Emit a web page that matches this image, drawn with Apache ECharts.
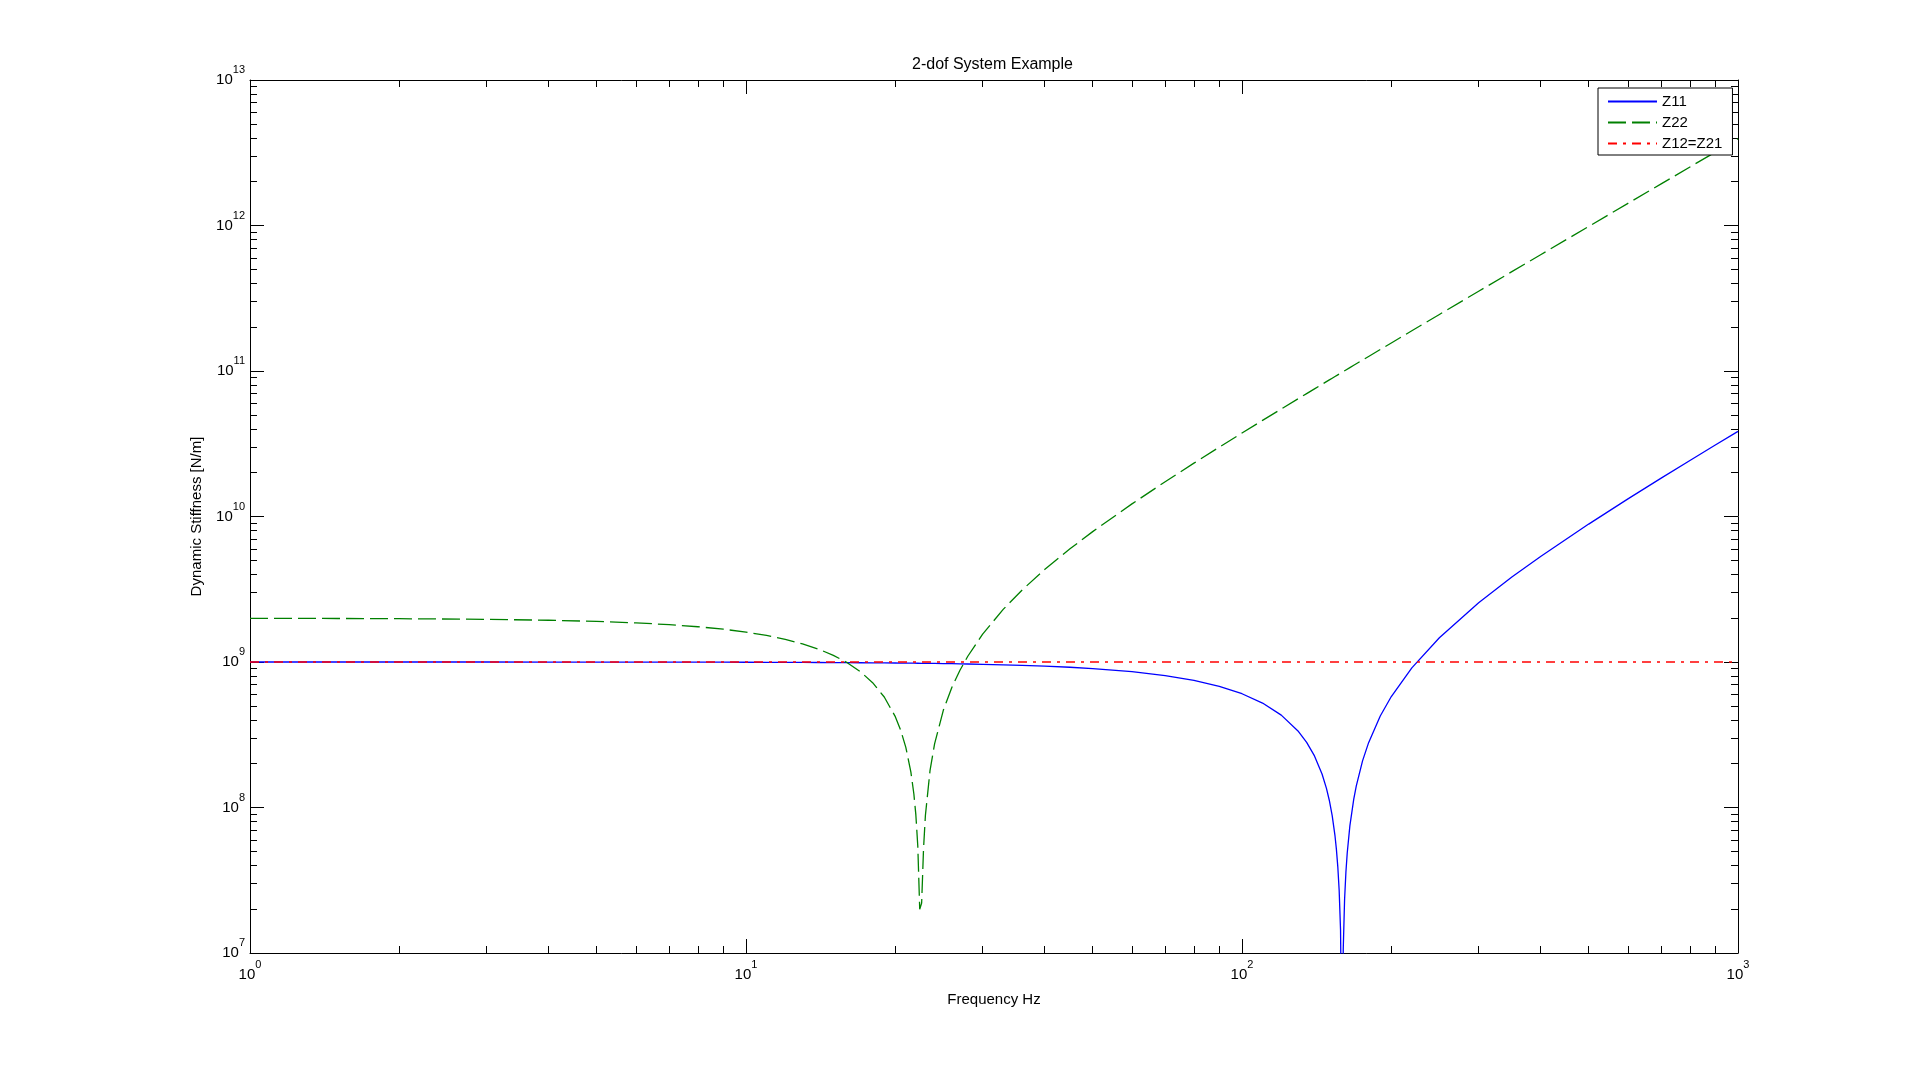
<!DOCTYPE html>
<html>
<head>
<meta charset="utf-8">
<script src="https://cdn.jsdelivr.net/npm/echarts@6/dist/echarts.min.js"></script>
<style>html,body{margin:0;padding:0;background:#fff;}#c{width:1920px;height:1071px;}</style>
</head>
<body>
<div id="c"></div>
<script>
// Frequency [Hz]
const freq = [1, 1.5, 2, 3, 4, 5, 6, 7, 8, 9, 10, 11, 12, 13, 14, 15, 16, 17, 18, 19, 20,
  20.5, 21, 21.5, 21.8, 22, 22.2, 22.4, 22.6, 22.8, 23, 23.5, 24, 25, 26, 27, 28, 30, 33, 36,
  40, 45, 50, 60, 70, 80, 90, 100, 110, 120, 130, 135, 140, 145, 148, 150, 152, 154, 155,
  156, 157, 158, 159, 159.3, 160, 161, 162, 163, 165, 168, 170, 175, 180, 190, 200, 220,
  250, 300, 350, 400, 500, 600, 700, 800, 900, 1000];
// Z11 [N/m]
const z11 = [9.9996e8, 9.9991e8, 9.9984e8, 9.9964e8, 9.9937e8, 9.9901e8, 9.9858e8, 9.9807e8,
  9.9747e8, 9.9680e8, 9.9605e8, 9.9522e8, 9.9432e8, 9.9333e8, 9.9226e8, 9.9112e8, 9.8989e8,
  9.8859e8, 9.8721e8, 9.8575e8, 9.8421e8, 9.8341e8, 9.8259e8, 9.8175e8, 9.8124e8, 9.8089e8,
  9.8054e8, 9.8019e8, 9.7984e8, 9.7948e8, 9.7912e8, 9.7820e8, 9.7726e8, 9.7533e8, 9.7331e8,
  9.7122e8, 9.6905e8, 9.6447e8, 9.5701e8, 9.4884e8, 9.3684e8, 9.2006e8, 9.0131e8, 8.5788e8,
  8.0656e8, 7.4734e8, 6.8023e8, 6.0522e8, 5.2232e8, 4.3152e8, 3.3282e8, 2.8051e8, 2.2623e8,
  1.6998e8, 1.3527e8, 1.1175e8, 8.7901e7, 6.3740e7, 5.1541e7, 3.9263e7, 2.6907e7, 1.4471e7,
  1.957e6, 1.813e6, 1.0637e7, 2.3309e7, 3.6061e7, 4.8891e7, 7.4789e7, 1.14227e8, 1.40914e8,
  2.09014e8, 2.79087e8, 4.25156e8, 5.7912e8, 9.10735e8, 1.467375e9, 2.55302e9, 3.836055e9,
  5.31648e9, 8.8695e9, 1.321208e10, 1.834422e10, 2.426592e10, 3.097718e10, 3.8478e10];
// Z22 [N/m]
const z22 = [1.99605e9, 1.99112e9, 1.98421e9, 1.96447e9, 1.93684e9, 1.90131e9, 1.85788e9,
  1.80656e9, 1.74734e9, 1.68023e9, 1.60522e9, 1.52232e9, 1.43152e9, 1.33282e9, 1.22623e9,
  1.11175e9, 9.89363e8, 8.59086e8, 7.20913e8, 5.74844e8, 4.2088e8, 3.40937e8, 2.5902e8,
  1.75129e8, 1.23848e8, 8.9265e7, 5.4367e7, 2.0e7, 2.2e7, 5.2225e7, 8.8386e7,
  1.80173e8, 2.73933e8, 4.67375e8, 6.68713e8, 8.77946e8, 1.095075e9, 1.55302e9, 2.299154e9,
  3.116349e9, 4.31648e9, 5.994295e9, 7.8695e9, 1.221208e10, 1.734422e10, 2.326592e10,
  2.997718e10, 3.7478e10, 4.576838e10, 5.484832e10, 6.471782e10, 6.994866e10, 7.537688e10,
  8.10025e10, 8.447261e10, 8.68255e10, 8.920997e10, 9.162602e10, 9.28459e10, 9.407366e10,
  9.53093e10, 9.655286e10, 9.78043e10, 9.81813e10, 9.90637e10, 1.003309e11, 1.016061e11,
  1.028891e11, 1.054789e11, 1.094227e11, 1.120914e11, 1.189014e11, 1.259087e11, 1.405156e11,
  1.55912e11, 1.890735e11, 2.447375e11, 3.53302e11, 4.816055e11, 6.29648e11, 9.8495e11,
  1.419208e12, 1.932422e12, 2.524592e12, 3.195718e12, 3.9458e12];
// Z12 = Z21 [N/m]
const z12Freq = [1, 1000];
const z12 = [1e9, 1e9];

const seriesNames = ['Z11', 'Z22', 'Z12=Z21'];
const titleText = '2-dof System Example';
const xName = 'Frequency Hz';
const yName = 'Dynamic Stiffness [N/m]';

const FONT = '"Liberation Sans", Arial, sans-serif';
const pair = (xs, ys) => xs.map((x, i) => [x, ys[i]]);

function minorLogPositions(d0, d1) {
  const out = [];
  for (let d = d0; d < d1; d++) for (let k = 2; k <= 9; k++) out.push(d + Math.log10(k));
  return out;
}

const richLbl = {
  b: { fontSize: 15, fontFamily: FONT, color: '#000' },
  e: { fontSize: 11, fontFamily: FONT, color: '#000', padding: [0, 0, 20, 0] }
};
const fmt = v => '{b|10}{e|' + Math.round(Math.log10(v)) + '}';
const lineBlack = { show: true, onZero: false, lineStyle: { color: '#000', width: 1 } };

function majorAxis(pos, min, max, extra) {
  return Object.assign({
    type: 'log', logBase: 10, position: pos, min: min, max: max, gridIndex: 0,
    axisLine: lineBlack,
    axisTick: { show: true, inside: true, length: 14, lineStyle: { color: '#000', width: 1 } },
    axisLabel: { show: false },
    splitLine: { show: false }, minorTick: { show: false }, minorSplitLine: { show: false }
  }, extra || {});
}
function minorAxis(pos, min, max, vals) {
  return {
    type: 'value', position: pos, min: min, max: max, gridIndex: 0,
    axisLine: { show: false, onZero: false },
    axisTick: { show: true, inside: true, length: 7, customValues: vals, lineStyle: { color: '#000', width: 1 } },
    axisLabel: { show: false }, splitLine: { show: false }
  };
}

const chart = echarts.init(document.getElementById('c'), null, { renderer: 'canvas' });
chart.setOption({
  backgroundColor: '#fff',
  animation: false,
  title: {
    text: titleText, left: 907, top: 52,
    textStyle: { fontFamily: FONT, fontSize: 16, fontWeight: 'normal', color: '#000' }
  },
  legend: {
    orient: 'vertical', left: 1598, top: 88,
    padding: [6, 10, 4, 9], itemGap: 6, itemWidth: 49, itemHeight: 15,
    backgroundColor: '#fff', borderColor: '#000', borderWidth: 1, borderRadius: 0,
    itemStyle: { opacity: 0 },
    textStyle: { fontFamily: FONT, fontSize: 15, color: '#000' },
    data: seriesNames
  },
  grid: { left: 250, right: 182, top: 80, bottom: 118, containLabel: false },
  xAxis: [
    majorAxis('bottom', 1, 1000, {
      name: xName, nameLocation: 'middle', nameGap: 39,
      nameTextStyle: { fontFamily: FONT, fontSize: 15, color: '#000' },
      axisLabel: { show: true, margin: 6, formatter: fmt, rich: richLbl }
    }),
    majorAxis('top', 1, 1000),
    minorAxis('bottom', 0, 3, minorLogPositions(0, 3)),
    minorAxis('top', 0, 3, minorLogPositions(0, 3))
  ],
  yAxis: [
    majorAxis('left', 1e7, 1e13, {
      name: yName, nameLocation: 'middle', nameGap: 46, nameRotate: 90,
      nameTextStyle: { fontFamily: FONT, fontSize: 15, color: '#000' },
      axisLabel: { show: true, margin: 5, formatter: fmt, rich: richLbl }
    }),
    majorAxis('right', 1e7, 1e13),
    minorAxis('left', 7, 13, minorLogPositions(7, 13)),
    minorAxis('right', 7, 13, minorLogPositions(7, 13))
  ],
  series: [
    { name: seriesNames[0], type: 'line', xAxisIndex: 0, yAxisIndex: 0, showSymbol: false, symbol: 'none',
      data: pair(freq, z11), lineStyle: { color: '#0000ff', width: 1.3 }, itemStyle: { color: '#0000ff' } },
    { name: seriesNames[1], type: 'line', xAxisIndex: 0, yAxisIndex: 0, showSymbol: false, symbol: 'none',
      data: pair(freq, z22), lineStyle: { color: '#008000', width: 1.3, type: [18, 6] }, itemStyle: { color: '#008000' } },
    { name: seriesNames[2], type: 'line', xAxisIndex: 0, yAxisIndex: 0, showSymbol: false, symbol: 'none',
      data: pair(z12Freq, z12), lineStyle: { color: '#ff0000', width: 1.3, type: [9, 6, 3, 6] }, itemStyle: { color: '#ff0000' } }
  ]
});
</script>
</body>
</html>
